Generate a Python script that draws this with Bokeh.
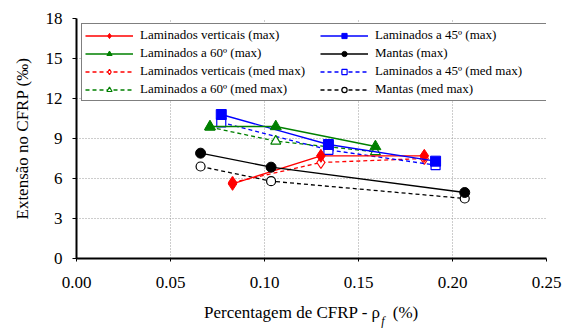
from bokeh.plotting import figure
from bokeh.models import Range1d, FixedTicker, Legend, LegendItem, Label, NumeralTickFormatter
from bokeh.embed import file_html
from bokeh.resources import INLINE

# ---- data ----
x_vert = [0.083, 0.130, 0.185]
vert_max = [5.6, 7.7, 7.7]
vert_med = [5.7, 7.2, 7.5]

x_45 = [0.077, 0.134, 0.191]
l45_max = [10.8, 8.55, 7.3]
l45_med = [10.2, 8.15, 7.0]

x_60 = [0.071, 0.106, 0.159]
l60_max = [9.9, 9.9, 8.4]
l60_med = [9.85, 8.8, 8.0]

x_mantas = [0.066, 0.1035, 0.2065]
mantas_max = [7.9, 6.85, 4.95]
mantas_med = [6.9, 5.8, 4.5]

x_ticks = [0.0, 0.05, 0.10, 0.15, 0.20, 0.25]
y_ticks = [0, 3, 6, 9, 12, 15, 18]

FONT = "Liberation Serif"

p = figure(width=565, height=329, output_backend="svg", toolbar_location=None,
           x_range=Range1d(0, 0.25), y_range=Range1d(0, 18),
           min_border_left=76, min_border_right=19, min_border_top=18, min_border_bottom=71)
p.outline_line_color = None
p.background_fill_color = "white"

for ax in (p.xaxis[0], p.yaxis[0]):
    ax.axis_line_width = 2
    ax.axis_line_color = "black"
    ax.major_tick_line_color = "black"
    ax.major_tick_line_width = 1
    ax.minor_tick_line_color = None
    ax.major_tick_in = 0
    ax.major_label_text_font = FONT
    ax.major_label_text_font_size = "17px"
    ax.major_label_text_color = "black"
    ax.axis_label_text_font = FONT
    ax.axis_label_text_font_size = "17px"
    ax.axis_label_text_font_style = "normal"
    ax.axis_label_text_color = "black"

p.xaxis.ticker = FixedTicker(ticks=x_ticks)
p.xaxis.formatter = NumeralTickFormatter(format="0.00")
p.xaxis.major_tick_out = 3
p.xaxis.major_label_standoff = 15
# main part of the x label (non-breaking spaces leave room for the subscript "f")
p.xaxis.axis_label = "Percentagem de CFRP - ρ\u00a0\u00a0\u00a0(%)"
p.xaxis.axis_label_standoff = 12

p.yaxis.ticker = FixedTicker(ticks=y_ticks)
p.yaxis.major_tick_out = 4
p.yaxis.major_label_standoff = 10
p.yaxis.axis_label = "Extensão no CFRP (‰)"
p.yaxis.axis_label_standoff = 11

for g in (p.xgrid[0], p.ygrid[0]):
    g.grid_line_color = "#9a9a9a"
    g.grid_line_dash = "1 2"
    g.grid_line_width = 1

series = [
    ("Laminados verticais (max)", x_vert, vert_max, "red", "diamond", 13, True),
    ("Laminados a 45º (max)", x_45, l45_max, "blue", "square", 10, True),
    ("Laminados a 60º (max)", x_60, l60_max, "green", "triangle", 11, True),
    ("Mantas (max)", x_mantas, mantas_max, "black", "circle", 10, True),
    ("Laminados verticais (med max)", x_vert, vert_med, "red", "diamond", 12, False),
    ("Laminados a 45º (med max)", x_45, l45_med, "blue", "square", 9, False),
    ("Laminados a 60º (med max)", x_60, l60_med, "green", "triangle", 10, False),
    ("Mantas (med max)", x_mantas, mantas_med, "black", "circle", 9, False),
]

items = {}
# draw med first, then max on top
for name, xs, ys, col, mk, sz, filled in series[4:] + series[:4]:
    if filled:
        ln = p.line(xs, ys, line_color=col, line_width=1.3)
        sc = p.scatter(xs, ys, marker=mk, size=sz, fill_color=col, line_color=col, line_width=1)
    else:
        ln = p.line(xs, ys, line_color=col, line_width=1.3, line_dash="4 3")
        sc = p.scatter(xs, ys, marker=mk, size=sz, fill_color="white", line_color=col, line_width=1.2)
    items[name] = LegendItem(label=name, renderers=[ln, sc])

# legend fills column by column: col 1 then col 2
legend_order = [series[0][0], series[2][0], series[4][0], series[6][0],
                series[1][0], series[3][0], series[5][0], series[7][0]]
legend = Legend(items=[items[n] for n in legend_order], location="top_left", ncols=2,
                label_text_font=FONT, label_text_font_size="13px", label_text_color="black",
                glyph_width=48, glyph_height=13, label_height=13, label_width=178,
                label_standoff=7, spacing=2, padding=3, margin=5,
                border_line_color="black", border_line_width=1.5,
                background_fill_color="white", background_fill_alpha=1.0)
p.add_layout(legend, "center")

# italic subscript f of rho (in the narrow right panel so it is not clipped by the frame)
p.add_layout(Label(x=0.1621, y=-4.68, text="f", text_align="left", text_font_style="italic",
                   text_baseline="alphabetic", text_font=FONT, text_font_size="12px",
                   text_color="black"), "right")

open("out.html", "w").write(file_html(p, INLINE))
